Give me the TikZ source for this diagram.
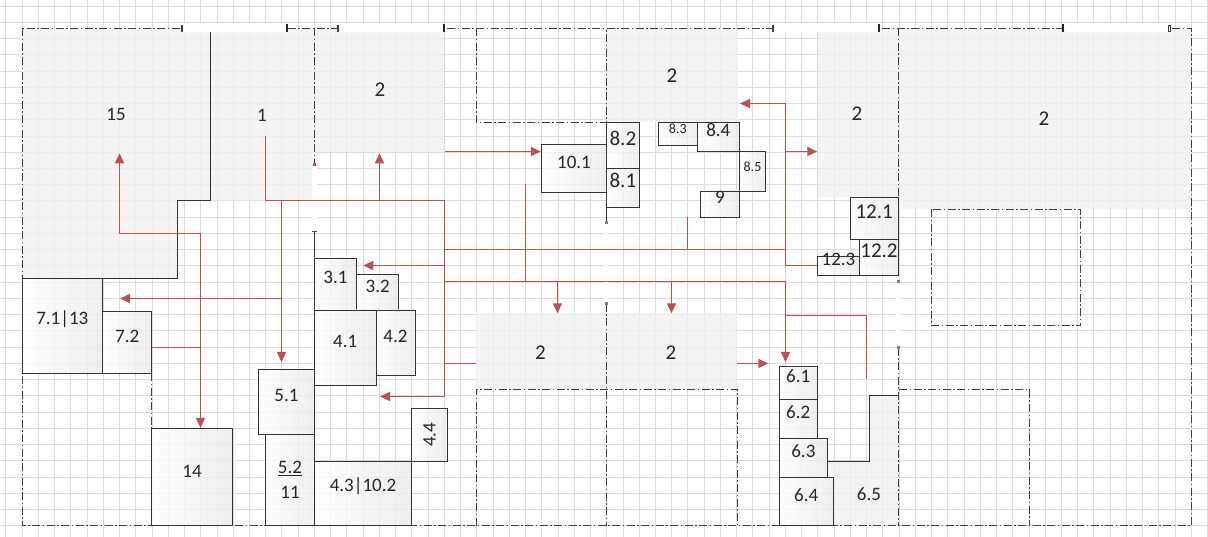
\documentclass[tikz,border=0pt]{standalone}
\usepackage{fontspec}
\setmainfont{Carlito}
\usetikzlibrary{arrows.meta,fit}
\definecolor{arr}{RGB}{192,80,77}
\definecolor{txt}{RGB}{38,38,38}
\newcommand\fA{\fontsize{19}{23}\selectfont}
\newcommand\fB{\fontsize{21}{25}\selectfont}
\newcommand\fS{\fontsize{14}{17}\selectfont}
\tikzset{
 gridline/.style={draw=black!14, line width=0.8pt},
 wall/.style={draw=black!75, line width=1pt, dash pattern=on 8pt off 2.5pt on 1.5pt off 2.5pt},
 solidwall/.style={draw=black!80, line width=1pt},
 room/.style={fill=black!5, fill opacity=0.8},
 box/.style={draw=black!80, line width=0.9pt, left color=white, right color=black!8, fill opacity=0.8, text opacity=1, inner sep=0pt, text=txt, font=\fA},
 lbl/.style={text=txt, font=\fA, inner sep=0pt},
 lblB/.style={text=txt, font=\fB, inner sep=0pt},
 redline/.style={draw=arr, line width=1.4pt},
 arw/.style={redline, -{Triangle[length=10pt,width=9pt]}},
 door/.style={fill=white},
 omark/.style={draw=black!75, line width=0.6pt, fill=white},
 imark/.style={fill=black!85},
 dmark/.style={fill=black!50},
}
\begin{document}
\begin{tikzpicture}[x=1pt,y=-1pt]
\useasboundingbox (0,0) rectangle (1208,537);
\fill[white] (0,0) rectangle (1208,537);
% grid
\foreach \i in {0,...,74} \draw[gridline] ({5.8+16.24*\i},0) -- ({5.8+16.24*\i},537);
\foreach \j in {0,...,32} \draw[gridline] (0,{6+16.24*\j}) -- (1208,{6+16.24*\j});
% gray rooms
\fill[room] (22,28.3) -- (314.3,28.3) -- (314.3,200.7) -- (177.7,200.7) -- (177.7,278.3) -- (22,278.3) -- cycle;
\fill[room] (314.3,28.3) rectangle (444,152);
\fill[room] (606.7,28.3) rectangle (738,122.3);
\fill[room] (817.5,28.3) rectangle (898.3,197.3);
\fill[room] (898.3,28.3) rectangle (1191.3,209.3);
\fill[room] (476,313.3) rectangle (737,389);
\fill[room] (869.3,395.7) -- (898.3,395.7) -- (898.3,525.7) -- (833.3,525.7) -- (833.3,477.3) -- (827.7,477.3) -- (827.7,461) -- (869.3,461) -- cycle;
% walls
\draw[wall] (22,28.3) rectangle (1191.3,525.7);
\draw[wall] (314.3,28.3) -- (314.3,165);
\draw[wall] (476,28.3) -- (476,122.3) -- (606.7,122.3) -- (606.7,28.3);
\draw[wall] (606.7,304) -- (606.7,525.7);
\draw[wall] (898.3,28.3) -- (898.3,197.3);
\draw[wall] (898.3,348) -- (898.3,525.7);
\draw[wall] (151.7,373.3) -- (151.7,428.3);
\draw[wall] (476,525.7) -- (476,389) -- (737,389) -- (737,525.7);
\draw[wall] (899,389) -- (1029,389) -- (1029,525.7);
\draw[wall] (931.7,209.3) rectangle (1080.7,326);
\draw[solidwall] (314.3,231) -- (314.3,258);
\draw[solidwall] (606.7,207) -- (606.7,222);
\draw[solidwall] (210,32) -- (210,200.7) -- (177.7,200.7) -- (177.7,278.3) -- (22,278.3);
\draw[solidwall] (827.7,461) -- (869.3,461) -- (869.3,395.7) -- (898.3,395.7);
% doors
\fill[door] (183,23.5) rectangle (286,32);
\fill[door] (339,23.5) rectangle (443,32);
\fill[door] (774,23.5) rectangle (877.5,32);
\fill[door] (1064.5,23.5) rectangle (1168,32);
\fill[door] (311.8,166.5) rectangle (316.8,229.5);
\fill[door] (604.2,224) rectangle (609.2,302.5);
\fill[door] (895.8,283.2) rectangle (900.8,346.5);
\draw[omark] (180.8,25) rectangle (182.6,31.7);
\fill[imark] (286.2,24.5) rectangle (288.4,32);
\draw[omark] (336.8,25) rectangle (338.6,31.7);
\fill[imark] (443,24.5) rectangle (445.2,32);
\draw[omark] (771.8,25) rectangle (773.6,31.7);
\fill[imark] (877.6,24.5) rectangle (879.8,32);
\fill[imark] (1062.2,24.5) rectangle (1064.4,32);
\draw[omark] (1168.4,25) rectangle (1170.2,31.7);
\fill[arr] (312.8,163.5) rectangle (315.8,166.5);
\draw[black!70, line width=0.8pt] (312,231) -- (316.6,231);
\fill[dmark] (605.2,221) rectangle (608.2,224);
\fill[dmark] (605.2,302.5) rectangle (608.2,305.5);
\fill[dmark] (896.8,280.5) rectangle (899.8,283);
\fill[dmark] (896.8,346.5) rectangle (899.8,349.5);
% boxes
\node[box, fit={(22,278.3) (102.7,373.3)}] (b71) {7.1|13};
\node[box, fit={(102.7,311.7) (151.7,373.3)}] (b72) {7.2};
\node[box, fit={(151.7,428.3) (232.3,525.7)}] (b14) {14};
\node[box, fit={(258.7,369.3) (314.3,434.7)}] (b51) {5.1};
\node[box, fit={(265.7,434.7) (314.3,525.7)}] (b52) {};
\node[lbl, align=center, font={\fontsize{19}{25}\selectfont}] (t52) at (b52) {\underline{5.2}\\11};
\node[box, fit={(314.3,258) (356.7,310)}] (b31) {3.1};
\node[box, fit={(356.7,274.7) (398.7,310)}] (b32) {3.2};
\node[box, fit={(314.3,310) (376,385.3)}] (b41) {4.1};
\node[box, fit={(376,310) (415,375.7)}] (b42) {4.2};
\node[box, fit={(411.7,408.7) (447.3,461)}] (b44) {};
\node[lbl, rotate=90] (t44) at (b44) {4.4};
\node[box, fit={(314.3,461) (411.7,525.7)}] (b43) {4.3|10.2};
\node[box, fit={(541.3,144.3) (606.7,192.7)}] (b101) {10.1};
\node[box, fit={(606.7,122.3) (639,168.3)}, font=\fB] (b82) {8.2};
\node[box, fit={(606.7,168.3) (639,207)}, font=\fB] (b81) {8.1};
\node[box, fit={(658.3,122.3) (697.3,145.3)}, font=\fS] (b83) {8.3};
\node[box, fit={(697.3,122.3) (739.3,151.7)}] (b84) {8.4};
\node[box, fit={(739.3,151.7) (765.7,191)}, font=\fS] (b85) {8.5};
\node[box, fit={(700.7,191) (739.3,217)}] (b9) {9};
\node[box, fit={(850,197.3) (898.3,239.3)}, font=\fB] (b121) {12.1};
\node[box, fit={(859.7,239.3) (898.3,275.3)}, font=\fB] (b122) {12.2};
\node[box, fit={(817.3,256) (859.7,275.3)}] (b123) {12.3};
\node[box, fit={(779,366.7) (817.3,399)}] (b61) {6.1};
\node[box, fit={(779,399) (817.3,438.3)}] (b62) {6.2};
\node[box, fit={(779,438.3) (827.7,477.3)}] (b63) {6.3};
\node[box, fit={(779,477.3) (833.3,525.7)}] (b64) {6.4};
% red connectors
\draw[arw] (265.5,135.7) |- (444.5,200.5) -- (444.5,396.5) -- (380,396.5);
\draw[arw] (281.5,200.5) -- (281.5,362);
\draw[arw] (281.5,298.5) -- (120,298.5);
\draw[arw] (379.5,200.5) -- (379.5,153.3);
\draw[arw] (444.5,265.5) -- (363.3,265.5);
\draw[redline] (444.5,363.5) -- (476,363.5);
\draw[redline] (444.5,249.5) -- (785.5,249.5);
\draw[redline] (687.5,216.7) -- (687.5,249.5);
\draw[arw] (b123.west |- 0,265.5) -| (785.5,103.5) -- (740,103.5);
\draw[arw] (785.5,151.5) -- (817.3,151.5);
\draw[arw] (444.5,281.5) -| (785.5,362);
\draw[redline] (525.5,184.3) -- (525.5,281.5);
\draw[arw] (557.5,281.5) -- (557.5,313.3);
\draw[arw] (671.5,281.5) -- (671.5,313.3);
\draw[redline] (866.5,379.3) |- (785.5,315.5);
\draw[arw] (737,363.5) -- (768.3,363.5);
\draw[arw] (444.5,151.5) -- (b101.west |- 0,151.5);
\draw[redline] (b72.east |- 0,347.5) -- (200.5,347.5);
\draw[arw] (200.5,233.5) -- (b14.north -| 200.5,0);
\draw[arw] (200.5,233.5) -| (119.5,153.3);
% room labels
\node[lbl] (r15) at (116,114) {15};
\node[lbl] (r1) at (262,115) {1};
\node[lblB] (r2a) at (380,90) {2};
\node[lblB] (r2b) at (672,76) {2};
\node[lblB] (r2c) at (857,113.5) {2};
\node[lblB] (r2d) at (1044,118.5) {2};
\node[lblB] (r2e) at (540.5,352.5) {2};
\node[lblB] (r2f) at (671,352.5) {2};
\node[lbl] (r65) at (869,494) {6.5};
\end{tikzpicture}
\end{document}
